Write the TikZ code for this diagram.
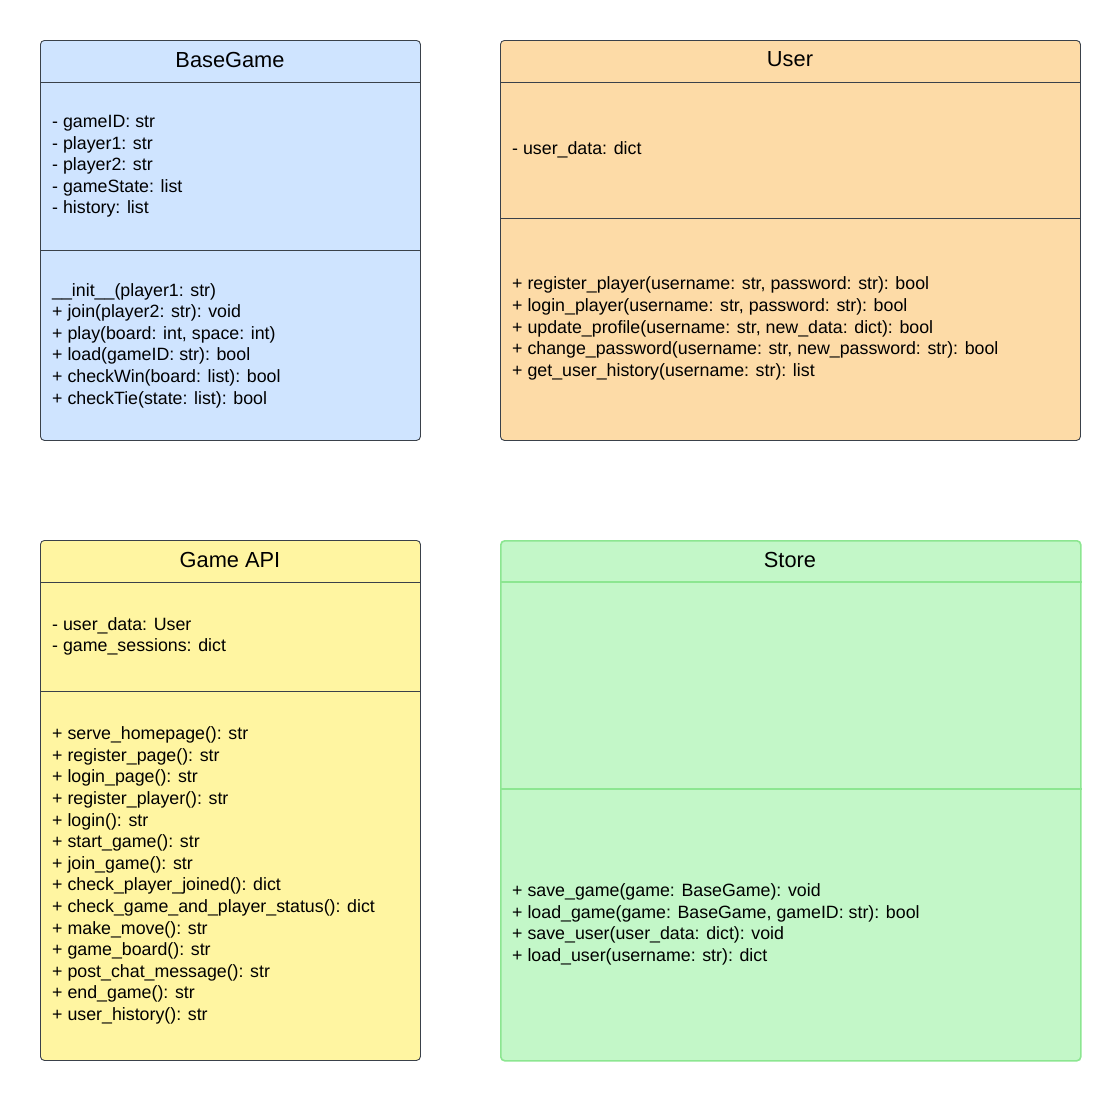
\documentclass[tikz,border=0pt]{standalone}
\usepackage{fontspec}
\setmainfont{Liberation Sans}
\definecolor{bgblue}{RGB}{207,228,255}
\definecolor{bgorange}{RGB}{253,219,167}
\definecolor{bgyellow}{RGB}{255,245,161}
\definecolor{bggreen}{RGB}{195,247,200}
\definecolor{edgegray}{RGB}{58,65,74}
\definecolor{edgegreen}{RGB}{140,230,145}
\tikzset{
  classbox/.style={rectangle, rounded corners=4pt, line width=0.9pt, inner sep=0pt, anchor=north west},
  divider/.style={line width=0.9pt},
  head/.style={inner sep=0pt, font=\fontsize{21.8}{26}\selectfont},
  members/.style={inner sep=0pt, anchor=west, align=left, font=\fontsize{17.8}{21.6}\selectfont}
}
\begin{document}
\begin{tikzpicture}[x=1pt,y=-1pt]
\useasboundingbox (0,0) rectangle (1120,1100);
% BaseGame
\node[classbox, fill=bgblue, draw=edgegray, minimum width=380pt, minimum height=400pt] (bg) at (40,40) {};
\coordinate (bg1) at (0,82);
\coordinate (bg2) at (0,250);
\draw[divider, edgegray] (bg.west |- bg1) -- (bg.east |- bg1);
\draw[divider, edgegray] (bg.west |- bg2) -- (bg.east |- bg2);
\node[head] (bgt) at (230,59.5) {BaseGame};
\node[members] (bga) at (52,166.5) {- gameID: str\\- player1: str\\- player2: str\\- gameState: list\\- history: list};
\node[members] (bgm) at (52,345.5) {\_\_init\_\_(player1: str)\\+ join(player2: str): void\\+ play(board: int, space: int)\\+ load(gameID: str): bool\\+ checkWin(board: list): bool\\+ checkTie(state: list): bool};
% User
\node[classbox, fill=bgorange, draw=edgegray, minimum width=580pt, minimum height=400pt] (us) at (500,40) {};
\coordinate (us1) at (0,82);
\coordinate (us2) at (0,218);
\draw[divider, edgegray] (us.west |- us1) -- (us.east |- us1);
\draw[divider, edgegray] (us.west |- us2) -- (us.east |- us2);
\node[head] (ust) at (790,59.5) {User};
\node[members] (usa) at (512,149.5) {- user\_data: dict};
\node[members] (usm) at (512,328.5) {+ register\_player(username: str, password: str): bool\\+ login\_player(username: str, password: str): bool\\+ update\_profile(username: str, new\_data: dict): bool\\+ change\_password(username: str, new\_password: str): bool\\+ get\_user\_history(username: str): list};
% Game API
\node[classbox, fill=bgyellow, draw=edgegray, minimum width=380pt, minimum height=520pt] (ga) at (40,540) {};
\coordinate (ga1) at (0,582);
\coordinate (ga2) at (0,691);
\draw[divider, edgegray] (ga.west |- ga1) -- (ga.east |- ga1);
\draw[divider, edgegray] (ga.west |- ga2) -- (ga.east |- ga2);
\node[head] (gat) at (230,559.5) {Game API};
\node[members] (gaa) at (52,636.5) {- user\_data: User\\- game\_sessions: dict};
\node[members] (gam) at (52,875.5) {+ serve\_homepage(): str\\+ register\_page(): str\\+ login\_page(): str\\+ register\_player(): str\\+ login(): str\\+ start\_game(): str\\+ join\_game(): str\\+ check\_player\_joined(): dict\\+ check\_game\_and\_player\_status(): dict\\+ make\_move(): str\\+ game\_board(): str\\+ post\_chat\_message(): str\\+ end\_game(): str\\+ user\_history(): str};
% Store
\node[classbox, fill=bggreen, draw=edgegreen, line width=1.6pt, minimum width=580pt, minimum height=520pt] (st) at (500,540) {};
\coordinate (st1) at (0,582);
\coordinate (st2) at (0,789);
\draw[divider, edgegreen, line width=1.6pt] (st.west |- st1) -- (st.east |- st1);
\draw[divider, edgegreen, line width=1.6pt] (st.west |- st2) -- (st.east |- st2);
\node[head] (stt) at (790,559.5) {Store};
\node[members] (stm) at (512,924.5) {+ save\_game(game: BaseGame): void\\+ load\_game(game: BaseGame, gameID: str): bool\\+ save\_user(user\_data: dict): void\\+ load\_user(username: str): dict};
\end{tikzpicture}
\end{document}
